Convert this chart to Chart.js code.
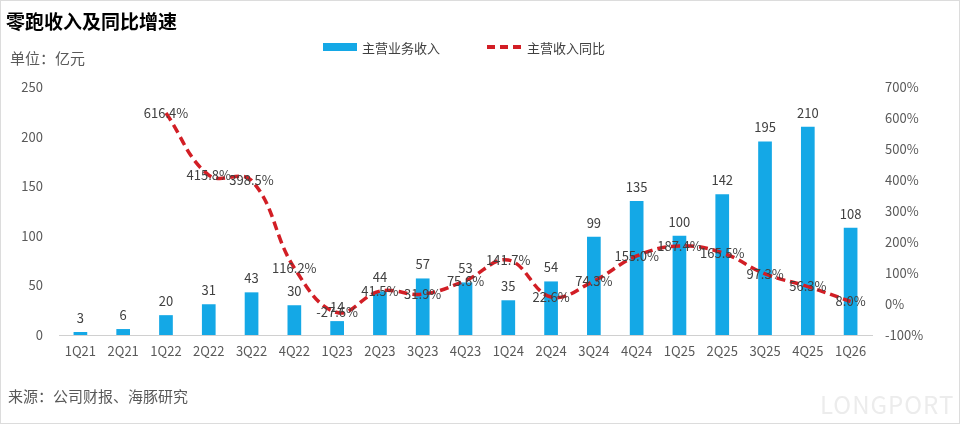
<!DOCTYPE html>
<html>
<head>
<meta charset="utf-8">
<script src="https://cdn.jsdelivr.net/npm/chart.js@4"></script>
<style>
  html, body { margin: 0; padding: 0; background: #fff; }
  body { width: 960px; height: 424px; position: relative; overflow: hidden;
         font-family: "Noto Sans CJK SC", "Noto Sans", sans-serif; }
  .frame { position: absolute; left: 0; top: 0; width: 958px; height: 422px; border: 1px solid #dcdcdc; }
  #c { position: absolute; left: 0; top: 0; }
  .title { position: absolute; left: 6px; top: 7px; font-size: 19px; font-weight: bold; color: #000; }
  .unit { position: absolute; left: 10px; top: 47px; font-size: 15px; color: #595959; }
  .src { position: absolute; left: 8px; top: 385px; font-size: 15px; color: #595959; }
  .lg { position: absolute; top: 38px; font-size: 13px; color: #404040; }
  .sw-bar { position: absolute; left: 323px; top: 43px; width: 34px; height: 8px; background: #14a8e6; }
  .sw-line { position: absolute; left: 487px; top: 45px; width: 34px; height: 0; border-top: 4px dashed #d21e25; }
  .wm { position: absolute; left: 820px; top: 386px; font-size: 24px; color: #ececec; letter-spacing: 1px; }
</style>
</head>
<body>
<div class="frame"></div>
<canvas id="c" width="960" height="424"></canvas>
<div class="title">零跑收入及同比增速</div>
<div class="unit">单位：亿元</div>
<div class="sw-bar"></div><div class="lg" style="left:362px">主营业务收入</div>
<div class="sw-line"></div><div class="lg" style="left:527px">主营收入同比</div>
<div class="src">来源：公司财报、海豚研究</div>
<div class="wm">LONGPORT</div>
<script>
// quarters on the x axis
const quarters = ['1Q21','2Q21','1Q22','2Q22','3Q22','4Q22','1Q23','2Q23','3Q23','4Q23',
                  '1Q24','2Q24','3Q24','4Q24','1Q25','2Q25','3Q25','4Q25','1Q26'];
// 主营业务收入 (亿元)
const revenue = [3, 6, 20, 31, 43, 30, 14, 44, 57, 53, 35, 54, 99, 135, 100, 142, 195, 210, 108];
// 主营收入同比 (%)
const yoy = [null, null, 616.4, 415.8, 398.5, 116.2, -27.6, 41.5, 31.9, 75.6,
             141.7, 22.6, 74.3, 155.0, 187.4, 165.5, 97.3, 56.3, 8.0];
const leftTicks = [0, 50, 100, 150, 200, 250];
const rightTicks = [-100, 0, 100, 200, 300, 400, 500, 600, 700];

const FONT = '"Noto Sans CJK SC", "Noto Sans", sans-serif';

// draws the value labels: above bars, centred on the line points
const valueLabels = {
  id: 'valueLabels',
  afterDatasetsDraw(chart) {
    const ctx = chart.ctx;
    ctx.save();
    ctx.font = '13px ' + FONT;
    ctx.fillStyle = '#404040';
    ctx.textAlign = 'center';
    ctx.textBaseline = 'middle';
    chart.getDatasetMeta(1).data.forEach((el, i) => {
      ctx.fillText(String(revenue[i]), el.x, el.y - 14);
    });
    chart.getDatasetMeta(0).data.forEach((el, i) => {
      if (yoy[i] == null) return;
      ctx.fillText(yoy[i].toFixed(1) + '%', el.x, el.y);
    });
    ctx.restore();
  }
};

new Chart(document.getElementById('c').getContext('2d'), {
  data: {
    labels: quarters,
    datasets: [
      {
        type: 'line',
        label: '主营收入同比',
        data: yoy,
        yAxisID: 'y1',
        borderColor: '#d21e25',
        borderWidth: 3.5,
        borderDash: [9, 5],
        tension: 0.4,
        pointRadius: 0,
        fill: false,
        order: 0
      },
      {
        type: 'bar',
        label: '主营业务收入',
        data: revenue,
        yAxisID: 'y',
        backgroundColor: '#14a8e6',
        categoryPercentage: 1,
        barPercentage: 0.32,
        order: 1
      }
    ]
  },
  options: {
    responsive: false,
    animation: false,
    layout: { padding: { top: 87, bottom: 59, left: 0, right: 0 } },
    plugins: { legend: { display: false }, tooltip: { enabled: false } },
    scales: {
      x: {
        grid: { display: false, drawTicks: false },
        border: { color: '#d0d0d0', width: 1 },
        ticks: { color: '#595959', font: { family: FONT, size: 13 }, padding: 8, maxRotation: 0, autoSkip: false },
        afterFit(s) { s.height = 30; }
      },
      y: {
        position: 'left',
        min: 0, max: 250,
        afterBuildTicks(s) { s.ticks = leftTicks.map(v => ({ value: v })); },
        grid: { display: false, drawTicks: false },
        border: { display: false },
        ticks: { color: '#595959', font: { family: FONT, size: 13 }, padding: 16 },
        afterFit(s) { s.width = 59; }
      },
      y1: {
        position: 'right',
        min: -100, max: 700,
        afterBuildTicks(s) { s.ticks = rightTicks.map(v => ({ value: v })); },
        grid: { display: false, drawTicks: false },
        border: { display: false },
        ticks: { color: '#595959', font: { family: FONT, size: 13 }, padding: 13,
                 callback: v => v + '%' },
        afterFit(s) { s.width = 88; }
      }
    }
  },
  plugins: [valueLabels]
});
</script>
</body>
</html>
